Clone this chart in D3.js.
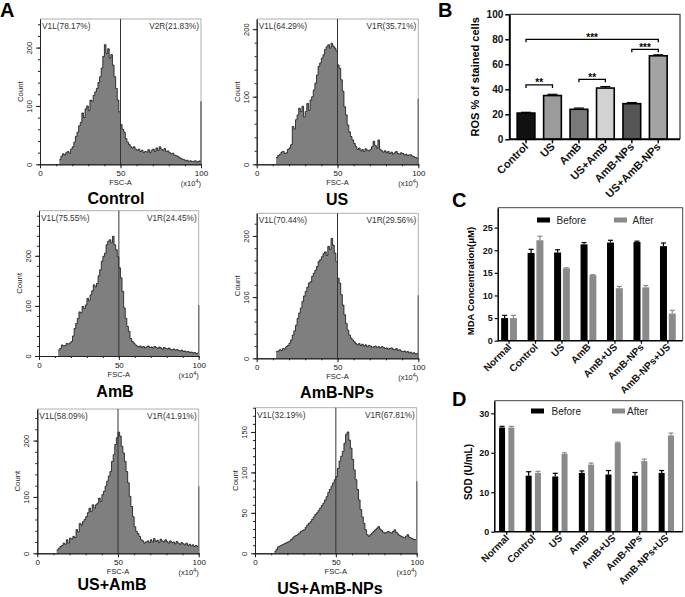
<!DOCTYPE html>
<html><head><meta charset="utf-8">
<script src="https://cdnjs.cloudflare.com/ajax/libs/d3/7.8.5/d3.min.js"></script>
<style>body{margin:0;background:#fff;} svg{display:block;}</style>
</head><body><svg id="c" width="685" height="597"></svg>
<script>
// ================= DATA =================
const histTitles = ["Control", "US", "AmB", "AmB-NPs", "US+AmB", "US+AmB-NPs"];
const gateLeftLabels = ["V1L(78.17%)", "V1L(64.29%)", "V1L(75.55%)", "V1L(70.44%)", "V1L(58.09%)", "V1L(32.19%)"];
const gateRightLabels = ["V2R(21.83%)", "V1R(35.71%)", "V1R(24.45%)", "V1R(29.56%)", "V1R(41.91%)", "V1R(67.81%)"];
const histStartBin = 12; // first populated FSC-A bin (x10^4)
const countsControl = [8,14,18,16,20,22,19,26,30,38, 48,55,66,72,88,80,95,100,92,110, 108,118,124,130,140,150,165,185,205,190, 198,182,188,170,150,130,110,90,68,60, 55,44,38,34,30,28,30,26,24,26, 22,24,20,22,21,25,20,24,26,22, 28,24,30,26,24,27,22,23,20,18, 19,16,15,14,12,10,9,8,6,7, 5,6,5,5,6,4,5,6];
const countsUS = [10,13,15,18,19,16,17,22,24,29, 56,52,66,73,83,78,86,70,78,90, 80,95,100,110,120,132,145,150,157,162, 170,174,177,172,179,175,172,168,147,142, 125,108,85,73,58,48,41,36,31,26, 22,24,20,22,19,23,21,20,22,26, 34,28,24,36,22,20,18,20,17,19, 16,18,15,17,19,16,15,17,16,14, 15,13,14,14,12,11,10,9];
const countsAmB = [12,15,22,20,21,25,24,26,29,40, 55,65,75,88,86,99,95,102,115,110, 122,130,142,138,145,160,172,189,199,205, 222,229,232,226,239,222,212,198,176,156, 129,96,75,59,49,35,29,26,22,20, 18,20,17,19,16,18,20,17,18,16, 19,17,15,18,16,14,17,15,14,16, 13,12,14,12,13,11,10,12,9,10, 8,9,7,8,6,7,5,6];
const countsAmBNPs = [11,12,14,13,16,15,19,21,25,30, 38,45,54,65,74,82,93,102,109,116, 123,125,134,139,144,150,158,161,166,171, 174,168,183,178,196,185,172,158,131,123, 104,87,71,57,46,38,33,30,27,24, 22,24,21,23,20,22,19,21,20,18, 19,20,18,19,17,19,18,16,17,15, 16,17,15,14,16,13,14,12,11,12, 10,11,9,10,8,9,7,8];
const countsUSAmB = [6,9,12,14,18,16,24,18,27,25, 30,28,42,38,53,50,56,60,65,72, 80,74,86,80,86,89,98,92,104,110, 119,128,137,145,163,175,193,205,215,208, 190,178,163,145,125,101,83,65,47,39, 35,30,24,22,18,20,22,19,24,20, 26,21,23,19,25,22,20,24,21,18, 22,19,20,17,21,18,16,19,17,15, 18,14,16,13,15,12,14,12];
const countsUSAmBNPs = [2,5,8,9,10,11,12,13,14,15, 17,19,21,22,23,25,27,28,29,32, 35,37,39,42,45,48,50,53,56,59, 62,66,70,75,79,83,87,91,95,105, 114,120,126,136,147,150,140,130,116,103, 91,79,66,54,45,37,29,23,21,23, 25,27,29,31,33,30,28,26,25,26, 27,26,25,27,29,26,24,22,21,20, 19,21,23,20,19,18,17,17];
const histCounts = [countsControl, countsUS, countsAmB, countsAmBNPs, countsUSAmB, countsUSAmBNPs];
const edgeSpikes = [108, 97, 102, 103, 119, 89];

const rosCategories = ["Control", "US", "AmB", "US+AmB", "AmB-NPs", "US+AmB-NPs"];
const rosValues = [21, 35, 24, 41, 28.5, 66.8];
const rosErrors = [0.6, 1.0, 1.0, 1.2, 0.9, 0.8];
const rosColors = ["#111111", "#9b9b9b", "#7a7a7a", "#d2d2d2", "#555555", "#a3a3a3"];
const rosTicks = [0, 20, 40, 60, 80, 100];
const rosSignificance = [[0, 1, 43.5, "**"], [2, 3, 48, "**"], [4, 5, 72, "***"], [0, 5, 80, "***"]];

const groupCategories = ["Normal", "Control", "US", "AmB", "AmB+US", "AmB-NPs", "AmB-NPs+US"];
const seriesNames = ["Before", "After"];
const seriesColors = ["#000000", "#8a8a8a"];
const mdaBefore = [5.0, 19.4, 19.5, 21.3, 21.7, 21.8, 20.9];
const mdaBeforeErr = [0.6, 0.8, 0.6, 0.4, 0.5, 0.2, 0.7];
const mdaAfter = [5.0, 22.2, 16.0, 14.5, 11.6, 11.8, 6.0];
const mdaAfterErr = [0.6, 0.9, 0.1, 0.1, 0.4, 0.4, 0.7];
const mdaTicks = [0, 5, 10, 15, 20, 25];
const sodBefore = [26.4, 14.2, 14.0, 14.9, 14.5, 14.2, 14.9];
const sodBeforeErr = [0.3, 1.0, 0.8, 0.5, 1.0, 0.8, 0.6];
const sodAfter = [26.4, 14.9, 19.7, 17.0, 22.5, 17.9, 24.4];
const sodAfterErr = [0.3, 0.4, 0.3, 0.4, 0.2, 0.5, 0.6];
const sodTicks = [0, 10, 20, 30];

// ================= DRAWING =================
const FONT = '"Liberation Sans", Arial, Helvetica, sans-serif';
const svg = d3.select("#c").attr("font-family", FONT);

// panel letters
[["A", 0, 17], ["B", 438, 17], ["C", 452, 207], ["D", 452, 406]].forEach(([t, x, y]) => {
  svg.append("text").attr("x", x).attr("y", y).attr("font-size", 20).attr("font-weight", "bold").attr("fill", "#000").text(t);
});

// ---------- Panel A: histograms ----------
const histLayout = [
  {x0: 40, x1: 201, yTop: 19, yBase: 164.3, yMax: 249, major: 100, minor: 20, tx: 116, ty: 204},
  {x0: 256.7, x1: 418.3, yTop: 19, yBase: 164.3, yMax: 215, major: 100, minor: 20, tx: 337, ty: 205},
  {x0: 39, x1: 198.7, yTop: 210.7, yBase: 356, yMax: 290, major: 100, minor: 20, tx: 115, ty: 397},
  {x0: 256.7, x1: 418.3, yTop: 213.3, yBase: 358.3, yMax: 237, major: 100, minor: 20, tx: 337, ty: 398},
  {x0: 37.3, x1: 198.7, yTop: 409, yBase: 553.3, yMax: 256, major: 100, minor: 20, tx: 112, ty: 590},
  {x0: 255, x1: 416.7, yTop: 407.7, yBase: 553.3, yMax: 180, major: 50, minor: 10, tx: 330, ty: 594}
];

function styleAxis(g, size, weight, color) {
  g.attr("font-family", FONT).attr("font-size", size).attr("font-weight", weight || "normal");
  g.selectAll("path,line").attr("stroke", color || "#222");
  g.selectAll("text").attr("fill", "#111");
}

histCounts.forEach((counts, i) => {
  const L = histLayout[i];
  const g = svg.append("g");
  const x = d3.scaleLinear().domain([0, 100]).range([L.x0, L.x1]);
  const y = d3.scaleLinear().domain([0, L.yMax]).range([L.yBase, L.yTop]);
  const pts = counts.map((c, k) => [histStartBin + k, c]);
  pts.push([100, counts[counts.length - 1]]);
  g.append("path").datum(pts)
    .attr("d", d3.area().x(d => x(d[0])).y0(y(0)).y1(d => y(d[1])).curve(d3.curveStepAfter))
    .attr("fill", "#7f7f7f");
  g.append("path").datum(pts)
    .attr("d", d3.line().x(d => x(d[0])).y(d => y(d[1])).curve(d3.curveStepAfter))
    .attr("fill", "none").attr("stroke", "#111").attr("stroke-width", 0.8);
  g.append("line").attr("x1", x(100)).attr("x2", x(100)).attr("y1", y(0)).attr("y2", y(edgeSpikes[i]))
    .attr("stroke", "#222").attr("stroke-width", 1.2);
  // frame
  g.append("path").attr("d", `M${x(0)},${y(L.yMax)}H${x(100)}V${y(0)}`)
    .attr("fill", "none").attr("stroke", "#9a9a9a").attr("stroke-width", 0.8);
  // gate line
  g.append("line").attr("x1", x(50)).attr("x2", x(50)).attr("y1", y(L.yMax)).attr("y2", y(0))
    .attr("stroke", "#333").attr("stroke-width", 1);
  // y axis
  const ym = g.append("g").attr("transform", `translate(${x(0)},0)`)
    .call(d3.axisLeft(y).tickValues(d3.range(0, L.yMax + 0.01, L.minor)).tickSize(2).tickFormat("").tickSizeOuter(0));
  styleAxis(ym, 7.5);
  const yM = g.append("g").attr("transform", `translate(${x(0)},0)`)
    .call(d3.axisLeft(y).tickValues(d3.range(0, L.yMax, L.major)).tickSize(4).tickSizeOuter(0));
  styleAxis(yM, 7.5);
  yM.selectAll("text").attr("x", 0).attr("dy", null).attr("text-anchor", "middle")
    .attr("transform", "translate(-8,0) rotate(-90)");
  // x axis
  const xm = g.append("g").attr("transform", `translate(0,${y(0)})`)
    .call(d3.axisBottom(x).tickValues(d3.range(0, 101, 10)).tickSize(2).tickFormat("").tickSizeOuter(0));
  styleAxis(xm, 8);
  const xM = g.append("g").attr("transform", `translate(0,${y(0)})`)
    .call(d3.axisBottom(x).tickValues([0, 50, 100]).tickSize(4).tickSizeOuter(0).tickPadding(2));
  styleAxis(xM, 8);
  // texts
  g.append("text").attr("x", x(0) + 2).attr("y", y(L.yMax) + 10).attr("font-size", 8.3).attr("fill", "#333").text(gateLeftLabels[i]);
  g.append("text").attr("x", x(100) - 2).attr("y", y(L.yMax) + 10).attr("text-anchor", "end").attr("font-size", 8.3).attr("fill", "#333").text(gateRightLabels[i]);
  g.append("text").attr("transform", `translate(${x(0) - 17},${(L.yTop + L.yBase) / 2}) rotate(-90)`)
    .attr("text-anchor", "middle").attr("font-size", 7.8).attr("fill", "#222").text("Count");
  g.append("text").attr("x", x(50)).attr("y", y(0) + 20.5).attr("text-anchor", "middle").attr("font-size", 7.5).attr("fill", "#222").text("FSC-A");
  const sci = g.append("text").attr("x", x(100)).attr("y", y(0) + 21.5).attr("text-anchor", "end").attr("font-size", 7.5).attr("fill", "#222");
  sci.append("tspan").text("(x10");
  sci.append("tspan").attr("dy", -2.5).attr("font-size", 5.5).text("4");
  sci.append("tspan").attr("dy", 2.5).text(")");
  // title
  svg.append("text").attr("x", L.tx).attr("y", L.ty).attr("text-anchor", "middle")
    .attr("font-size", 16).attr("font-weight", "bold").attr("fill", "#000").text(histTitles[i]);
});

// ---------- Panel B ----------
(function () {
  const left = 509.3, right = 680, top = 14.3, base = 139.3;
  const x = d3.scaleBand().domain(rosCategories).range([512.8, 671.5]).paddingInner(0.33).paddingOuter(0.165);
  const y = d3.scaleLinear().domain([0, 100]).range([base, top]);
  const g = svg.append("g");
  g.append("path").attr("d", `M${left},${top}H${right}V${base}`).attr("fill", "none").attr("stroke", "#444").attr("stroke-width", 1.3);
  g.selectAll("rect.bar").data(rosCategories).join("rect")
    .attr("x", d => x(d)).attr("width", x.bandwidth())
    .attr("y", (d, i) => y(rosValues[i])).attr("height", (d, i) => y(0) - y(rosValues[i]))
    .attr("fill", (d, i) => rosColors[i]).attr("stroke", "#000").attr("stroke-width", 1.6);
  rosCategories.forEach((d, i) => {
    const cx = x(d) + x.bandwidth() / 2;
    g.append("line").attr("x1", cx).attr("x2", cx).attr("y1", y(rosValues[i])).attr("y2", y(rosValues[i] + rosErrors[i])).attr("stroke", "#000").attr("stroke-width", 1.2);
    g.append("line").attr("x1", cx - 5).attr("x2", cx + 5).attr("y1", y(rosValues[i] + rosErrors[i])).attr("y2", y(rosValues[i] + rosErrors[i])).attr("stroke", "#000").attr("stroke-width", 1.2);
  });
  rosSignificance.forEach(([a, b, lvl, lab]) => {
    const xa = x(rosCategories[a]) + x.bandwidth() / 2, xb = x(rosCategories[b]) + x.bandwidth() / 2, yy = y(lvl);
    g.append("path").attr("d", `M${xa},${yy + 3}V${yy}H${xb}V${yy + 3}`).attr("fill", "none").attr("stroke", "#000").attr("stroke-width", 1.3);
    g.append("text").attr("x", (xa + xb) / 2).attr("y", yy + 1.5).attr("text-anchor", "middle").attr("font-size", 10).attr("font-weight", "bold").attr("fill", "#000").text(lab);
  });
  const ay = g.append("g").attr("transform", `translate(${left},0)`).call(d3.axisLeft(y).tickValues(rosTicks).tickSize(4).tickSizeOuter(0).tickPadding(2));
  styleAxis(ay, 10, "bold", "#000");
  ay.select(".domain").attr("stroke-width", 2);
  ay.selectAll(".tick line").attr("stroke-width", 1.5);
  const ax = g.append("g").attr("transform", `translate(0,${base})`).call(d3.axisBottom(x).tickSize(4).tickSizeOuter(0));
  styleAxis(ax, 11, "bold", "#000");
  ax.select(".domain").attr("d", `M${left},0H${right}`).attr("stroke-width", 2);
  ax.selectAll(".tick line").attr("stroke-width", 1.5);
  ax.selectAll("text").attr("y", 0).attr("dy", null).attr("text-anchor", "end").attr("transform", "translate(3,8) rotate(-45)");
  g.append("text").attr("transform", `translate(479,${(top + base) / 2}) rotate(-90)`).attr("text-anchor", "middle")
    .attr("font-size", 11).attr("font-weight", "bold").attr("fill", "#000").text("ROS % of stained cells");
})();

// ---------- Panels C, D ----------
function groupedPanel(o) {
  const g = svg.append("g");
  const x0 = d3.scaleBand().domain(groupCategories).range(o.xr).paddingInner(0).paddingOuter(0);
  const s = o.sub;
  const x1 = d3.scaleBand().domain(seriesNames).range([-s, s]).paddingInner(o.pi).paddingOuter(o.pi / 2);
  const y = d3.scaleLinear().domain([0, o.yMax]).range([o.base, o.top]);
  g.append("path").attr("d", `M${o.left},${o.top}H${o.right}V${o.base}`).attr("fill", "none").attr("stroke", "#444").attr("stroke-width", 1);
  const series = [[o.before, o.beforeErr], [o.after, o.afterErr]];
  series.forEach(([vals, errs], si) => {
    const name = seriesNames[si];
    g.selectAll(null).data(groupCategories).join("rect")
      .attr("x", d => x0(d) + x0.bandwidth() / 2 + x1(name)).attr("width", x1.bandwidth())
      .attr("y", (d, i) => y(vals[i])).attr("height", (d, i) => y(0) - y(vals[i]))
      .attr("fill", seriesColors[si]);
    groupCategories.forEach((d, i) => {
      const cx = x0(d) + x0.bandwidth() / 2 + x1(name) + x1.bandwidth() / 2;
      const yt = y(vals[i] + errs[i]);
      g.append("line").attr("x1", cx).attr("x2", cx).attr("y1", y(vals[i])).attr("y2", yt).attr("stroke", seriesColors[si]).attr("stroke-width", 1.2);
      g.append("line").attr("x1", cx - 2.5).attr("x2", cx + 2.5).attr("y1", yt).attr("y2", yt).attr("stroke", seriesColors[si]).attr("stroke-width", 1.2);
    });
  });
  const ay = g.append("g").attr("transform", `translate(${o.left},0)`).call(d3.axisLeft(y).tickValues(o.ticks).tickSize(3).tickSizeOuter(0).tickPadding(2));
  styleAxis(ay, 9, "bold", "#000");
  ay.select(".domain").attr("stroke-width", 1.5);
  ay.selectAll(".tick line").attr("stroke-width", 1.2);
  const ax = g.append("g").attr("transform", `translate(0,${o.base})`).call(d3.axisBottom(x0).tickSize(3).tickSizeOuter(0));
  styleAxis(ax, 10, "bold", "#000");
  ax.select(".domain").attr("d", `M${o.left},0H${o.right}`).attr("stroke-width", 1.5);
  ax.selectAll(".tick line").attr("stroke-width", 1.2);
  ax.selectAll("text").attr("y", 0).attr("dy", null).attr("text-anchor", "end").attr("transform", "translate(3,7) rotate(-45)");
  g.append("text").attr("transform", `translate(${o.labX},${o.labY}) rotate(-90)`).attr("text-anchor", "middle")
    .attr("font-size", o.labSize).attr("font-weight", "bold").attr("fill", "#000").text(o.label);
  // legend
  o.legend.forEach(([rx, tx], si) => {
    g.append("rect").attr("x", rx).attr("y", o.legY - 2.5).attr("width", 13).attr("height", 5).attr("fill", seriesColors[si]);
    g.append("text").attr("x", tx).attr("y", o.legY + 3.5).attr("font-size", 10).attr("fill", "#222").text(seriesNames[si]);
  });
}

groupedPanel({
  left: 497.7, right: 682.7, top: 207.7, base: 340.7, yMax: 29.4, xr: [495.8, 681.1], sub: 8.8, pi: 0.205,
  before: mdaBefore, beforeErr: mdaBeforeErr, after: mdaAfter, afterErr: mdaAfterErr, ticks: mdaTicks,
  label: "MDA Concentration(μM)", labX: 473.5, labY: 281, labSize: 9.5,
  legend: [[537, 556.5], [614, 632.5]], legY: 220
});
groupedPanel({
  left: 494.3, right: 682.7, top: 400.7, base: 531.7, yMax: 33.2, xr: [493.4, 679.6], sub: 9.3, pi: 0.355,
  before: sodBefore, beforeErr: sodBeforeErr, after: sodAfter, afterErr: sodAfterErr, ticks: sodTicks,
  label: "SOD (U/mL)", labX: 472, labY: 472, labSize: 10,
  legend: [[531, 551.5], [612, 627]], legY: 411
});
</script></body></html>
